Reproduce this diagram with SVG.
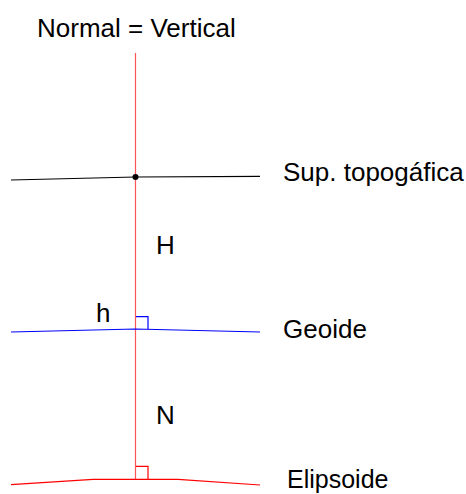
<svg xmlns="http://www.w3.org/2000/svg" width="466" height="494" viewBox="0 0 466 494">
<style>
text{font-family:"Liberation Sans",Arial,sans-serif;font-size:26px;fill:#000}
.ln{fill:none;stroke-width:1.2}
</style>
<rect width="466" height="494" fill="#fff"/>
<g id="connectors">
<line id="normal" x1="135.5" y1="53" x2="135.5" y2="479" stroke="#ff5555" stroke-width="1" class="ln"/>
</g>
<g id="topografia">
<polyline class="ln" stroke="#000" points="11,180 135.5,177 260,176.3"/>
<circle cx="135.5" cy="177" r="3" fill="#000"/>
<text x="283" y="181">Sup. topogáfica</text>
</g>
<g id="geoide">
<polyline class="ln" stroke="#0000ff" points="11,332 135.5,329 260,332"/>
<polyline class="ln" stroke="#0000ff" points="136,316.7 148,316.7 148,329"/>
<text x="283" y="338">Geoide</text>
</g>
<g id="elipsoide">
<polyline class="ln" stroke="#ff0000" points="11,484.7 93,479.3 178,479.3 260,485"/>
<polyline class="ln" stroke="#ff0000" points="136,466.3 148,466.3 148,479.3"/>
<text x="287" y="488" style="font-size:25px">Elipsoide</text>
</g>
<g id="labels">
<text x="37" y="37">Normal = Vertical</text>
<text x="156" y="254">H</text>
<text x="156" y="424">N</text>
<text x="96" y="322">h</text>
</g>
</svg>
